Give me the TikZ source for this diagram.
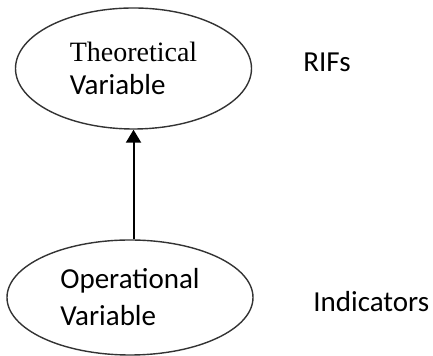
\documentclass[tikz,border=0pt]{standalone}
\usepackage{fontspec}
\setmainfont{Carlito}
\newfontfamily\serifface{Liberation Serif}
\usetikzlibrary{shapes.geometric, arrows.meta, positioning}
\tikzset{
    varellipse/.style={
        ellipse,
        draw=black!80,
        line width=0.7pt,
        inner sep=0pt,
        align=left
    },
    tag/.style={
        inner sep=0pt,
        font=\fontsize{14.5}{18}\selectfont
    },
    link/.style={
        draw=black,
        line width=1pt,
        -{Triangle[width=7.5pt,length=6.5pt]}
    }
}

\begin{document}
\begin{tikzpicture}[x=0.5pt,y=-0.5pt]
\useasboundingbox (0,0) rectangle (433,356);

\node[varellipse, minimum width=118pt, minimum height=60.5pt, font=\fontsize{14.5}{16.5}\selectfont] (theo) at (133.5,68.5) {{\serifface\fontsize{14}{16.5}\selectfont Theoretical}\\Variable};
\node[varellipse, minimum width=123pt, minimum height=57.5pt, font=\fontsize{14.5}{18.5}\selectfont] (oper) at (130,297.5) {Operational\\Variable};

\draw[link] (oper.north -| theo.south) -- (theo.south);

\node[tag, anchor=base west] (rifs) at (303,72) {RIFs};
\node[tag, anchor=base west] (ind) at (313,312) {Indicators};

\end{tikzpicture}
\end{document}
